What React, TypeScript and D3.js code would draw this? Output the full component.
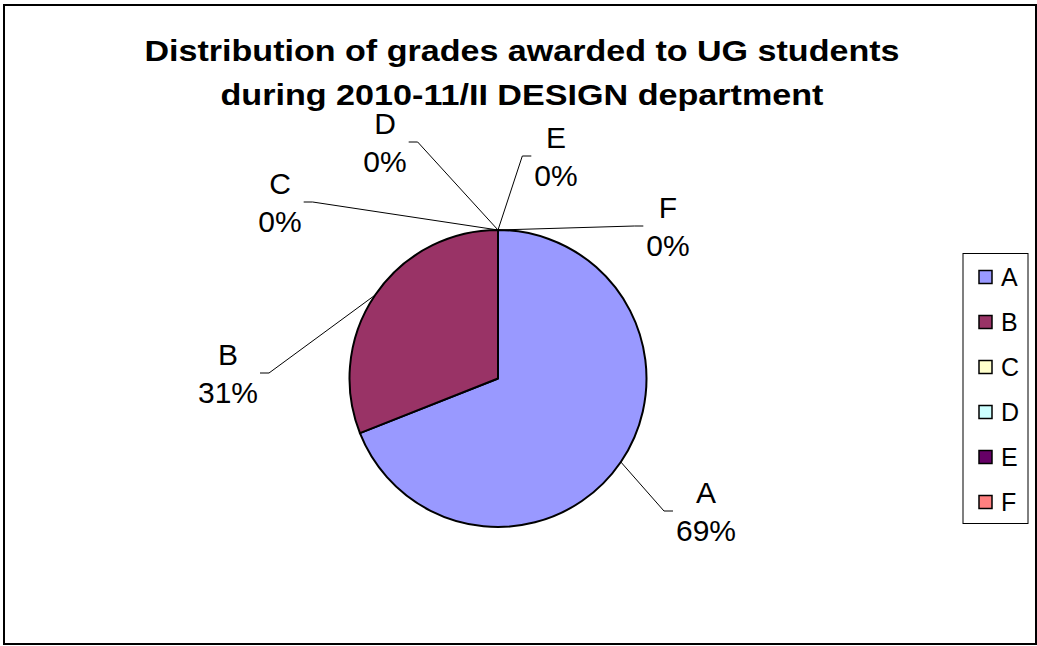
import React from "react";
import * as d3 from "d3";

const categories = ["A", "B", "C", "D", "E", "F"];
const values = [69, 31, 0, 0, 0, 0];
const colors = ["#9999FF", "#993366", "#FFFFCC", "#CCFFFF", "#660066", "#FF8080"];
const titleLines = [
  "Distribution of grades awarded to UG students",
  "during 2010-11/II DESIGN department",
];

// label placement (layout only): block centre x, block middle y, side of leader
const labelLayout = [
  { cx: 706, my: 511, side: 1 },
  { cx: 228, my: 373, side: -1 },
  { cx: 280, my: 202, side: -1 },
  { cx: 385, my: 142, side: -1 },
  { cx: 556, my: 156, side: 1 },
  { cx: 668, my: 226, side: 1 },
];

const FONT = "'Liberation Sans', Arial, Helvetica, sans-serif";
const W = 1037;
const H = 646;
const CX = 498;
const CY = 378.5;
const R = 148.5;
const LABEL_FS = 30;

const charW: Record<string, number> = {
  "0": 0.556, "1": 0.556, "2": 0.556, "3": 0.556, "4": 0.556, "5": 0.556,
  "6": 0.556, "7": 0.556, "8": 0.556, "9": 0.556, "%": 0.889,
};
const textW = (s: string, fs: number) =>
  s.split("").reduce((a, c) => a + (charW[c] ?? 0.6), 0) * fs;

export default function App() {
  const total = d3.sum(values);
  const pie = d3
    .pie<number>()
    .sort(null)
    .value((d) => d)
    .startAngle(0)
    .endAngle(2 * Math.PI);
  const arcs = pie(values);
  const arc = d3.arc<d3.PieArcDatum<number>>().innerRadius(0).outerRadius(R);

  const legendRows = d3.scaleBand<string>().domain(categories).range([256.5, 526.5]);

  return (
    <svg
      width={W}
      height={H}
      style={{ position: "absolute", left: 0, top: 0, background: "#fff" }}
      fontFamily={FONT}
    >
      <rect x={0} y={0} width={W} height={H} fill="#fff" />
      <rect x={4} y={5} width={1032} height={639} fill="#fff" stroke="#000" strokeWidth={2} />

      {titleLines.map((t, i) => (
        <text
          key={i}
          x={522}
          y={61 + i * 44}
          textAnchor="middle"
          fontWeight="bold"
          fontSize={30}
          textLength={i === 0 ? 755 : 603}
          lengthAdjust="spacingAndGlyphs"
        >
          {t}
        </text>
      ))}

      <g transform={`translate(${CX},${CY})`}>
        {arcs.map((a, i) =>
          a.endAngle > a.startAngle ? (
            <path key={i} d={arc(a) || ""} fill={colors[i]} stroke="#000" strokeWidth={2} strokeLinejoin="round" />
          ) : null
        )}
      </g>

      {arcs.map((a, i) => {
        const mid = (a.startAngle + a.endAngle) / 2;
        const px = CX + R * Math.sin(mid);
        const py = CY - R * Math.cos(mid);
        const L = labelLayout[i];
        const pct = `${Math.round((values[i] / total) * 100)}%`;
        const half = textW(pct, LABEL_FS) / 2;
        const end = L.side > 0 ? L.cx - half - 3 : L.cx + half + 2;
        const elbow = end - L.side * 9;
        return (
          <g key={i}>
            <polyline
              points={`${px},${py} ${elbow},${L.my} ${end},${L.my}`}
              fill="none"
              stroke="#000"
              strokeWidth={1}
            />
            <text x={L.cx} y={L.my - 8} textAnchor="middle" fontSize={LABEL_FS}>
              {categories[i]}
            </text>
            <text x={L.cx} y={L.my + 30} textAnchor="middle" fontSize={LABEL_FS}>
              {pct}
            </text>
          </g>
        );
      })}

      <rect x={963} y={253.5} width={65} height={270} fill="#fff" stroke="#000" strokeWidth={1} />
      {categories.map((c, i) => {
        const yc = (legendRows(c) as number) + legendRows.bandwidth() / 2 - 2;
        return (
          <g key={c}>
            <rect x={979} y={yc - 6.5} width={13} height={13} fill={colors[i]} stroke="#000" strokeWidth={1.5} />
            <text x={1001} y={yc + 8.5} fontSize={25}>
              {c}
            </text>
          </g>
        );
      })}
    </svg>
  );
}
